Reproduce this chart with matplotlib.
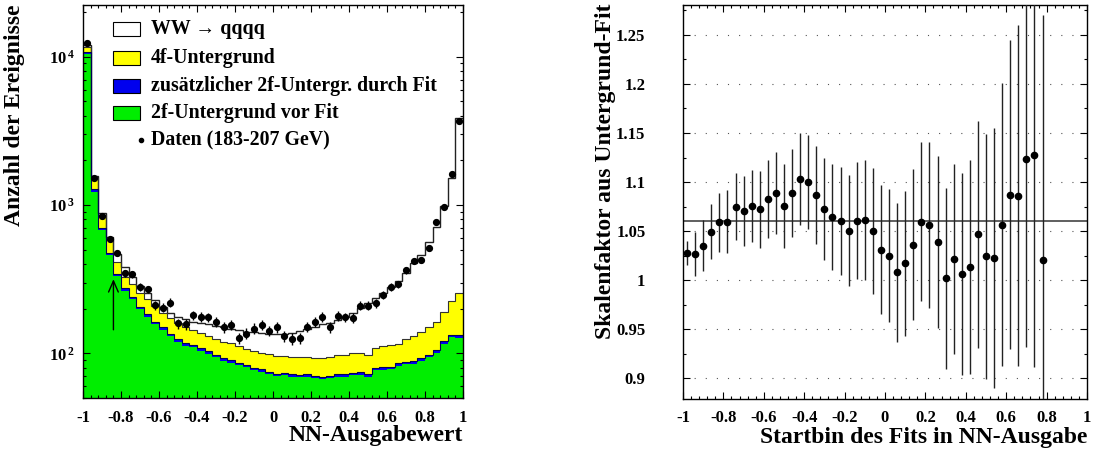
import numpy as np
import matplotlib
matplotlib.use("Agg")
import matplotlib.pyplot as plt
from matplotlib.ticker import MultipleLocator, LogLocator, FixedLocator, FuncFormatter, NullFormatter
from matplotlib.patches import Rectangle

plt.rcParams['font.family'] = ['Liberation Serif', 'DejaVu Serif']
plt.rcParams['font.weight'] = 'bold'
plt.rcParams['mathtext.fontset'] = 'custom'
plt.rcParams['mathtext.rm'] = 'Liberation Serif:bold'
plt.rcParams['mathtext.bf'] = 'Liberation Serif:bold'
plt.rcParams['mathtext.it'] = 'Liberation Serif:bold'

# NN-Ausgabe, 50 Bins von -1 bis 1
edges = np.linspace(-1.0, 1.0, 51)

# Ereignisse pro Bin (Daten 183-207 GeV)
n_data = [12300, 1510, 848, 590, 472, 346, 343, 279, 270, 212,
          203, 220, 159, 157, 180, 177, 175, 163, 150, 155,
          126, 136, 147, 155, 142, 150, 130, 125, 126, 151,
          163, 177, 150, 179, 175, 174, 210, 210, 217, 247,
          279, 292, 364, 421, 426, 510, 764, 975, 1610, 3700]

# MC-Anteile pro Bin
bg_2f_pre = [10385, 1228, 676, 460, 330, 263, 232, 198, 176, 157,
             144, 131, 119, 112.5, 109.6, 103.8, 99, 93.8, 89, 86.5,
             83.2, 80.3, 76.9, 75, 72.1, 70.2, 71.2, 69.7, 68.8, 69.7,
             67.8, 66.8, 67.8, 69.7, 69.7, 71.2, 71.6, 69.2, 76.9, 77.4,
             77.9, 82.7, 84.6, 85.1, 88.9, 94.2, 101, 116.3, 127.9, 126.9]
bg_2f_fit = [415, 49, 27, 18, 13, 11, 9, 8, 7, 6,
             6, 5, 5, 4.5, 4.4, 4.2, 4, 3.7, 3.5, 3.5,
             3.3, 3.2, 3.1, 3, 2.9, 2.8, 2.8, 2.8, 2.7, 2.8,
             2.7, 2.7, 2.7, 2.8, 2.8, 2.8, 2.9, 2.8, 3.1, 3.1,
             3.1, 3.3, 3.4, 3.4, 3.6, 3.8, 4, 4.7, 5.1, 5.1]
bg_4f = [900, 233, 154, 112, 72, 55, 52, 50, 48, 46,
         38, 36, 37, 34, 30, 30, 28, 26.5, 27.5, 27,
         25.5, 23.5, 23, 23, 24, 23, 22, 22.5, 23, 22.5,
         22, 23, 24.5, 24.5, 25.5, 26, 25.5, 26, 28, 31.5,
         33, 30, 36, 42.5, 46.5, 52, 58, 70, 92, 122]
ww_qqqq = [300, 70, 26, 22, 55, 51, 36, 28, 23, 20,
           18, 16, 16, 19, 19, 23, 26, 29, 31, 30,
           32, 33, 37, 37, 37, 40, 39, 43, 47.5, 50,
           58.5, 64.5, 64, 71, 79, 86, 101, 122, 127, 142,
           165, 193, 226, 273, 322, 413, 544, 793, 1305, 3626]

# Skalenfaktor aus dem Untergrund-Fit je nach Startbin
scale = [1.0275, 1.0265, 1.0352, 1.0495, 1.0587, 1.0597, 1.075, 1.0706, 1.0754, 1.072,
         1.0825, 1.0886, 1.0757, 1.0886, 1.1029, 1.1001, 1.0872, 1.0726, 1.0641, 1.0604,
         1.0505, 1.0607, 1.0611, 1.0502, 1.0309, 1.0247, 1.0077, 1.0173, 1.036, 1.0597,
         1.0563, 1.0387, 1.0016, 1.0214, 1.0057, 1.0135, 1.0465, 1.0244, 1.0224, 1.0566,
         1.0872, 1.0862, 1.1235, 1.128, 1.0204]
scale_err = [0.0125, 0.0225, 0.026, 0.0285, 0.0305, 0.032, 0.034, 0.036, 0.037, 0.039,
             0.040, 0.042, 0.043, 0.045, 0.047, 0.048, 0.050, 0.052, 0.054, 0.055,
             0.057, 0.060, 0.061, 0.064, 0.066, 0.068, 0.071, 0.074, 0.077, 0.081,
             0.085, 0.088, 0.092, 0.097, 0.103, 0.109, 0.116, 0.125, 0.133, 0.144,
             0.158, 0.174, 0.192, 0.217, 0.25]
scale_mean = 1.06
fit_start = -0.84

c_yellow = '#ffff00'
c_blue = '#0000ee'
c_green = '#00ee00'


def fmt_num(v, pos):
    return '%g' % round(v, 3)


def style_axes(ax):
    ax.tick_params(which='both', direction='in', top=True, right=True,
                   labelsize=12, width=0.8)
    ax.tick_params(which='major', length=5)
    ax.tick_params(which='minor', length=2.5)
    for s in ax.spines.values():
        s.set_linewidth(1.0)


fig = plt.figure(figsize=(10.94, 4.5), dpi=100)

# ---- linkes Bild: NN-Ausgabe ----
ax1 = fig.add_axes([0.0759, 0.1156, 0.3473, 0.8733])
centers = 0.5 * (edges[:-1] + edges[1:])

s_green = np.array(bg_2f_pre)
s_blue = s_green + np.array(bg_2f_fit)
s_yellow = s_blue + np.array(bg_4f)
s_total = s_yellow + np.array(ww_qqqq)

ax1.stairs(s_total, edges, baseline=1, fill=True, facecolor='white')
ax1.stairs(s_yellow, edges, baseline=1, fill=True, facecolor=c_yellow)
ax1.stairs(s_blue, edges, baseline=1, fill=True, facecolor=c_blue)
ax1.stairs(s_green, edges, baseline=1, fill=True, facecolor=c_green)
ax1.stairs(s_total, edges, baseline=None, color='#222222', lw=1.0)
ax1.stairs(s_yellow, edges, baseline=None, color='#333333', lw=0.8)
ax1.stairs(s_blue, edges, baseline=None, color='#000055', lw=0.8)

ax1.errorbar(centers, n_data, yerr=np.sqrt(n_data), fmt='o', color='black',
             ms=4.2, elinewidth=1.0, capsize=0, zorder=5)

ax1.annotate('', xy=(fit_start, 330), xytext=(fit_start, 138),
             arrowprops=dict(arrowstyle='->,head_length=0.8,head_width=0.35',
                             color='black', lw=1.0))

ax1.set_yscale('log')
ax1.set_xlim(-1, 1)
ax1.set_ylim(50, 22300)
ax1.xaxis.set_major_locator(MultipleLocator(0.2))
ax1.xaxis.set_minor_locator(MultipleLocator(0.04))
ax1.xaxis.set_major_formatter(FuncFormatter(fmt_num))
ax1.yaxis.set_major_locator(FixedLocator([100, 1000, 10000]))
ax1.yaxis.set_major_formatter(FuncFormatter(
    lambda v, p: r'$10^{\,%d}$' % round(np.log10(v))))
ax1.yaxis.set_minor_locator(LogLocator(base=10, subs=np.arange(2, 10)))
ax1.yaxis.set_minor_formatter(NullFormatter())
style_axes(ax1)
ax1.tick_params(axis='x', pad=9)
ax1.tick_params(axis='y', pad=6)

ax1.set_xlabel('NN-Ausgabewert', fontsize=17, fontweight='bold', loc='right')
ax1.xaxis.set_label_coords(1.0, -0.07)
ax1.set_ylabel('Anzahl der Ereignisse', fontsize=17, fontweight='bold', loc='top')
ax1.yaxis.set_label_coords(-0.152, 1.0)

# Legende
labels = ['WW \u2192 qqqq', '4f-Untergrund',
          'zus\u00e4tzlicher 2f-Untergr. durch Fit', '2f-Untergrund vor Fit']
colors = ['white', c_yellow, c_blue, c_green]
ys = [0.939, 0.865, 0.794, 0.725]
for lab, col, yy in zip(labels, colors, ys):
    ax1.add_patch(Rectangle((0.079, yy - 0.017), 0.071, 0.034, transform=ax1.transAxes,
                            facecolor=col, edgecolor='black', lw=0.8, zorder=6))
    ax1.text(0.179, yy, lab, transform=ax1.transAxes, fontsize=14.3,
             fontweight='bold', va='center', ha='left', zorder=6)
ax1.plot([0.152], [0.656], 'o', color='black', ms=3, transform=ax1.transAxes, zorder=6)
ax1.text(0.179, 0.656, 'Daten (183-207 GeV)', transform=ax1.transAxes, fontsize=14.3,
         fontweight='bold', va='center', ha='left', zorder=6)

# ---- rechtes Bild: Skalenfaktor ----
ax2 = fig.add_axes([0.6243, 0.1133, 0.3693, 0.8756])
start_bins = centers[:len(scale)]
for yv in np.arange(0.9, 1.2501, 0.05):
    ax2.axhline(yv, color='#555555', lw=0.8, ls=(0, (1, 9)), zorder=1)
ax2.axhline(scale_mean, color='#444444', lw=1.2, zorder=2)
ax2.errorbar(start_bins, scale, yerr=scale_err, fmt='o', color='black',
             ms=4.5, elinewidth=1.0, ecolor='#222222', capsize=0, zorder=5)

ax2.set_xlim(-1, 1)
ax2.set_ylim(0.8786, 1.2806)
ax2.xaxis.set_major_locator(MultipleLocator(0.2))
ax2.xaxis.set_minor_locator(MultipleLocator(0.04))
ax2.xaxis.set_major_formatter(FuncFormatter(fmt_num))
ax2.yaxis.set_major_locator(MultipleLocator(0.05))
ax2.yaxis.set_minor_locator(MultipleLocator(0.025))
ax2.yaxis.set_major_formatter(FuncFormatter(fmt_num))
style_axes(ax2)
ax2.tick_params(axis='x', pad=8)
ax2.tick_params(axis='y', pad=27)

ax2.set_xlabel('Startbin des Fits in NN-Ausgabe', fontsize=17, fontweight='bold', loc='right')
ax2.xaxis.set_label_coords(1.0, -0.07)
ax2.set_ylabel('Skalenfaktor aus Untergrund-Fit', fontsize=17, fontweight='bold', loc='top')
ax2.yaxis.set_label_coords(-0.165, 1.005)

fig.savefig('out.png', dpi=100)
